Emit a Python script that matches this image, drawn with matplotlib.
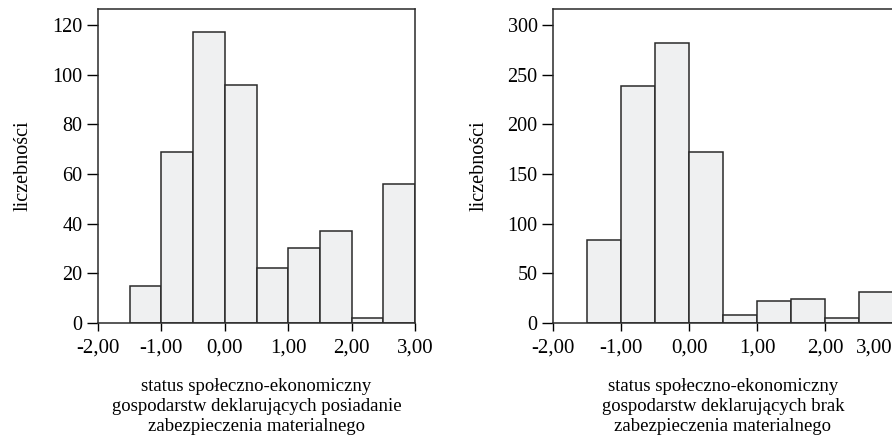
import numpy as np
import matplotlib
matplotlib.use("Agg")
import matplotlib.pyplot as plt

plt.rcParams['font.family'] = ['Liberation Serif', 'DejaVu Serif']

# przedziały (szerokość 0,5) i liczebności
bin_edges = [-1.5, -1.0, -0.5, 0.0, 0.5, 1.0, 1.5, 2.0, 2.5, 3.0]
counts_posiadanie = [15, 69, 117, 96, 22, 30, 37, 2, 56]
counts_brak = [84, 239, 282, 172, 8, 22, 24, 5, 31]

x_ticks = [-2, -1, 0, 1, 2, 3]
x_ticklabels = ['-2,00', '-1,00', '0,00', '1,00', '2,00', '3,00']
y_ticks_left = [0, 20, 40, 60, 80, 100, 120]
y_ticks_right = [0, 50, 100, 150, 200, 250, 300]

xlabel_left = "status społeczno-ekonomiczny\ngospodarstw deklarujących posiadanie\nzabezpieczenia materialnego"
xlabel_right = "status społeczno-ekonomiczny\ngospodarstw deklarujących brak\nzabezpieczenia materialnego"

W, H = 892, 436
fig = plt.figure(figsize=(W / 100, H / 100), dpi=100)

def px_axes(x0, y0, x1, y1):
    return fig.add_axes([x0 / W, 1 - y1 / H, (x1 - x0) / W, (y1 - y0) / H])

ax1 = px_axes(98, 9, 415, 323)
ax2 = px_axes(553, 9, 893, 323)

edges = np.array(bin_edges)
for ax, counts, yticks, ytop, xlabel in [
    (ax1, counts_posiadanie, y_ticks_left, 126.4, xlabel_left),
    (ax2, counts_brak, y_ticks_right, 316, xlabel_right),
]:
    ax.bar(edges[:-1], counts, width=np.diff(edges), align='edge',
           color='#eff0f1', edgecolor='#2a2a2a', linewidth=1.1)
    ax.set_xlim(-2, 3)
    ax.set_ylim(0, ytop)
    ax.set_xticks(x_ticks)
    ax.set_xticklabels(x_ticklabels)
    ax.set_yticks(yticks)
    ax.tick_params(axis='x', length=6, width=1, pad=5, labelsize=15, direction='out')
    ax.tick_params(axis='y', length=8, width=1, pad=3, labelsize=14.5)
    for s in ax.spines.values():
        s.set_linewidth(1.1)
        s.set_color('#2a2a2a')
    ax.set_ylabel('liczebności', fontsize=14.5, labelpad=14)
    ax.set_xlabel(xlabel, fontsize=13.5, labelpad=15, linespacing=1.22)

ax2.get_xticklabels()[-1].set_horizontalalignment('right')

fig.savefig('out.png', dpi=100)
